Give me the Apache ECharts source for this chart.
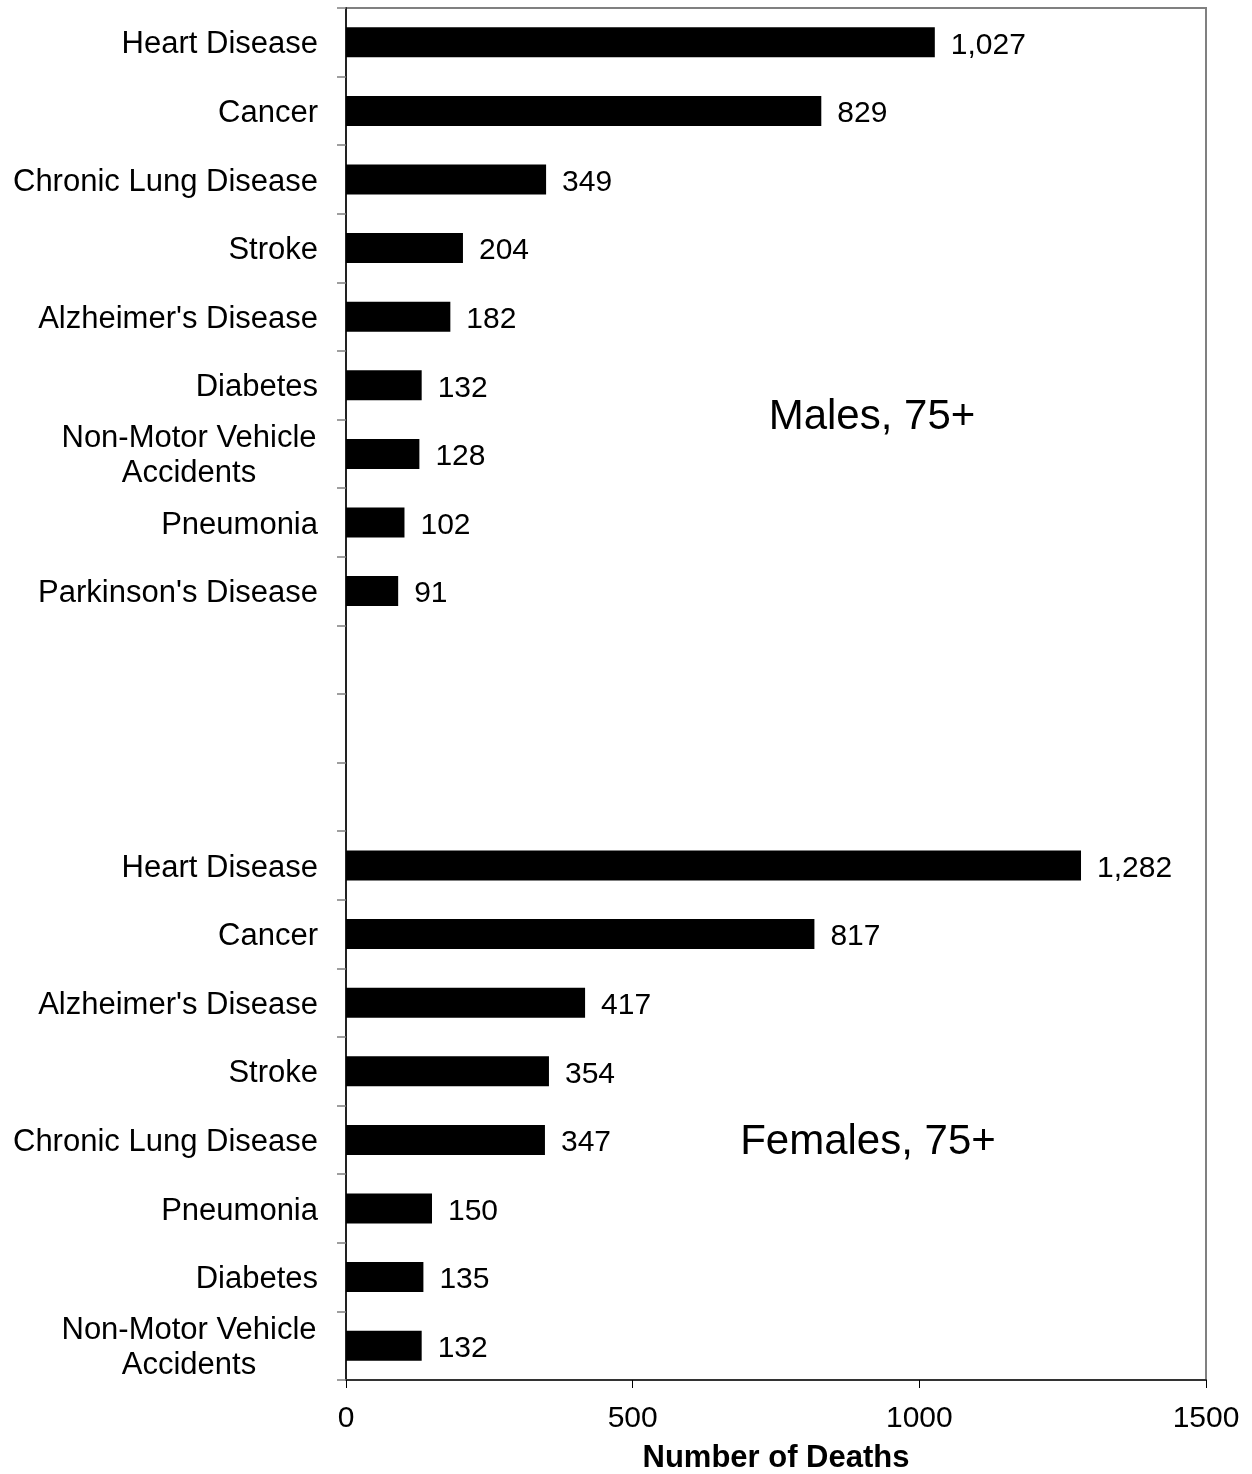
<!DOCTYPE html>
<html>
<head>
<meta charset="utf-8">
<script src="https://cdn.jsdelivr.net/npm/echarts@6/dist/echarts.min.js"></script>
<style>
  html, body { margin: 0; padding: 0; background: #fff; }
  #chart { width: 1252px; height: 1474px; }
</style>
</head>
<body>
<div id="chart"></div>
<script>
// male causes, top to bottom
const maleCauses = ['Heart Disease', 'Cancer', 'Chronic Lung Disease', 'Stroke', "Alzheimer's Disease",
  'Diabetes', 'Non-Motor Vehicle\nAccidents', 'Pneumonia', "Parkinson's Disease"]
const maleDeaths = [1027, 829, 349, 204, 182, 132, 128, 102, 91]
// female causes, top to bottom
const femaleCauses = ['Heart Disease', 'Cancer', "Alzheimer's Disease", 'Stroke', 'Chronic Lung Disease',
  'Pneumonia', 'Diabetes', 'Non-Motor Vehicle\nAccidents']
const femaleDeaths = [1282, 817, 417, 354, 347, 150, 135, 132]
const gapSlots = ['', '', '']
const xTicks = [0, 500, 1000, 1500]

const categories = maleCauses.concat(gapSlots, femaleCauses)
const values = maleDeaths.concat(gapSlots.map(() => '-'), femaleDeaths)

const FONT = 'Liberation Sans, Arial, sans-serif'
const chart = echarts.init(document.getElementById('chart'))

chart.setOption({
  animation: false,
  textStyle: { fontFamily: FONT },
  grid: {
    left: 346, right: 46, top: 8, bottom: 94,
    outerBoundsMode: 'none',
    containLabel: false,
    show: true, borderColor: '#808080', borderWidth: 2,
  },
  xAxis: {
    type: 'value',
    min: xTicks[0],
    max: xTicks[xTicks.length - 1],
    interval: 500,
    name: 'Number of Deaths',
    nameLocation: 'middle',
    nameGap: 63,
    nameTextStyle: { fontSize: 31, fontWeight: 'bold', color: '#000', fontFamily: FONT },
    axisLine: { show: true, lineStyle: { color: '#333', width: 2 } },
    axisTick: { show: true, length: 8, lineStyle: { color: '#000', width: 1 } },
    axisLabel: { fontSize: 30, color: '#000', margin: 24, fontFamily: FONT, formatter: v => String(v) },
    splitLine: { show: false },
  },
  yAxis: {
    type: 'category',
    inverse: true,
    data: categories,
    axisLine: { show: true, lineStyle: { color: '#222', width: 2 } },
    axisTick: { show: true, length: 9, lineStyle: { color: '#808080', width: 1.5 } },
    axisLabel: {
      fontSize: 31, color: '#000', margin: 28, fontFamily: FONT,
      padding: [5, 0, 0, 0],
      formatter: v => v.indexOf('\n') >= 0 ? '{c|' + v.split('\n').join('}\n{c|') + '}' : v,
      rich: { c: { fontSize: 31, color: '#000', width: 258, align: 'center', lineHeight: 35, fontFamily: FONT } },
    },
  },
  series: [{
    type: 'bar',
    data: values,
    barWidth: 30,
    itemStyle: { color: '#000' },
    label: {
      show: true,
      position: 'right',
      distance: 16,
      offset: [0, 3],
      fontSize: 30,
      color: '#000',
      fontFamily: FONT,
      formatter: p => p.value.toLocaleString('en-US'),
    },
  }],
  graphic: [
    { type: 'text', x: 872, y: 417, style: { text: 'Males, 75+', fontSize: 42, fontFamily: FONT, fill: '#000', textAlign: 'center', textVerticalAlign: 'middle' } },
    { type: 'text', x: 868, y: 1142, style: { text: 'Females, 75+', fontSize: 42, fontFamily: FONT, fill: '#000', textAlign: 'center', textVerticalAlign: 'middle' } },
  ],
})
</script>
</body>
</html>
